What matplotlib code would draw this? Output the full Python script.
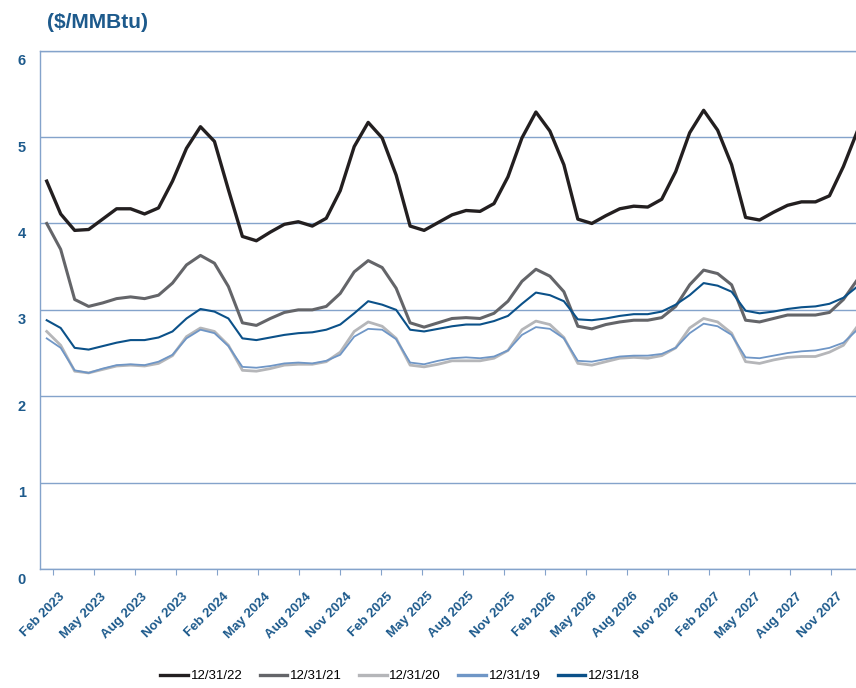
import numpy as np
import pandas as pd
import matplotlib
matplotlib.use('Agg')
import matplotlib.pyplot as plt
from matplotlib.transforms import ScaledTranslation

# forward strip, one value per contract month (Feb 2023 .. Dec 2027)
months = pd.date_range('2023-02-01', periods=59, freq='MS')

curve_22 = [4.49, 4.11, 3.92, 3.93, 4.05, 4.17, 4.17, 4.11, 4.18, 4.49, 4.87, 5.12,
            4.95, 4.39, 3.85, 3.80, 3.90, 3.99, 4.02, 3.97, 4.06, 4.38, 4.89, 5.17,
            4.99, 4.56, 3.97, 3.92, 4.01, 4.10, 4.15, 4.14, 4.23, 4.54, 4.99, 5.29,
            5.07, 4.68, 4.05, 4.00, 4.09, 4.17, 4.20, 4.19, 4.28, 4.60, 5.05, 5.31,
            5.08, 4.68, 4.07, 4.04, 4.13, 4.21, 4.25, 4.25, 4.32, 4.66, 5.07]
curve_21 = [4.00, 3.70, 3.12, 3.04, 3.08, 3.13, 3.15, 3.13, 3.17, 3.31, 3.52, 3.63,
            3.54, 3.27, 2.85, 2.82, 2.90, 2.97, 3.00, 3.00, 3.04, 3.19, 3.44, 3.57,
            3.49, 3.25, 2.85, 2.80, 2.85, 2.90, 2.91, 2.90, 2.96, 3.10, 3.33, 3.47,
            3.39, 3.21, 2.81, 2.78, 2.83, 2.86, 2.88, 2.88, 2.91, 3.04, 3.29, 3.46,
            3.42, 3.29, 2.88, 2.86, 2.90, 2.94, 2.94, 2.94, 2.97, 3.12, 3.35]
curve_20 = [2.75, 2.59, 2.29, 2.27, 2.31, 2.35, 2.36, 2.35, 2.38, 2.47, 2.69, 2.79,
            2.75, 2.59, 2.30, 2.29, 2.32, 2.36, 2.37, 2.37, 2.40, 2.51, 2.75, 2.86,
            2.81, 2.67, 2.36, 2.34, 2.37, 2.41, 2.41, 2.41, 2.44, 2.53, 2.77, 2.87,
            2.83, 2.68, 2.38, 2.36, 2.40, 2.44, 2.45, 2.44, 2.47, 2.56, 2.79, 2.90,
            2.86, 2.73, 2.40, 2.38, 2.42, 2.45, 2.46, 2.46, 2.51, 2.59, 2.81]
curve_19 = [2.67, 2.56, 2.30, 2.27, 2.32, 2.36, 2.37, 2.36, 2.40, 2.48, 2.67, 2.77,
            2.73, 2.58, 2.34, 2.33, 2.35, 2.38, 2.39, 2.38, 2.41, 2.48, 2.69, 2.78,
            2.77, 2.66, 2.39, 2.37, 2.41, 2.44, 2.45, 2.44, 2.46, 2.53, 2.71, 2.80,
            2.78, 2.67, 2.41, 2.40, 2.43, 2.46, 2.47, 2.47, 2.49, 2.56, 2.73, 2.84,
            2.81, 2.71, 2.45, 2.44, 2.47, 2.50, 2.52, 2.53, 2.56, 2.62, 2.77]
curve_18 = [2.88, 2.79, 2.56, 2.54, 2.58, 2.62, 2.65, 2.65, 2.68, 2.75, 2.90, 3.01,
            2.98, 2.90, 2.67, 2.65, 2.68, 2.71, 2.73, 2.74, 2.77, 2.83, 2.96, 3.10,
            3.06, 3.00, 2.77, 2.75, 2.78, 2.81, 2.83, 2.83, 2.87, 2.93, 3.07, 3.20,
            3.17, 3.10, 2.89, 2.88, 2.90, 2.93, 2.95, 2.95, 2.98, 3.06, 3.17, 3.31,
            3.28, 3.21, 2.99, 2.96, 2.98, 3.01, 3.03, 3.04, 3.07, 3.14, 3.27]

series_names = ['12/31/22', '12/31/21', '12/31/20', '12/31/19', '12/31/18']
series_colors = ['#231f20', '#646569', '#b5b6b9', '#6f96c6', '#0b5189']
series_widths = [2.4, 2.2, 2.0, 1.3, 1.5]

label_c = '#1d5a8c'
grid_c = '#84a3cb'

plt.rcParams['font.family'] = ['Liberation Sans', 'DejaVu Sans']

fig = plt.figure(figsize=(8.56, 6.88), dpi=100)
ax = fig.add_axes([40 / 856, 1 - 569 / 688, 1 - 40 / 856, (569 - 50.7) / 688])

x = np.arange(len(months))
curves = [curve_22, curve_21, curve_20, curve_19, curve_18]
for vals, name, c, lw in zip(curves, series_names, series_colors, series_widths):
  ax.plot(x, vals, color=c, lw=lw, label=name, solid_joinstyle='round', zorder=3)

ax.set_xlim(-0.48, 57.9)
ax.set_ylim(0, 6)

# y axis
ax.set_yticks(range(7))
ax.grid(axis='y', color=grid_c, lw=1.0, zorder=1)
ax.tick_params(axis='y', length=0, pad=10, labelsize=10.5, labelcolor=label_c)
for lab in ax.get_yticklabels():
  lab.set_fontweight('bold')
  lab.set_transform(lab.get_transform() + ScaledTranslation(0, -9 / 100, fig.dpi_scale_trans))

ax.spines['right'].set_visible(False)
for side in ['left', 'bottom', 'top']:
  ax.spines[side].set_color(grid_c)
  ax.spines[side].set_linewidth(1.0)

# x axis: quarterly labels, tick marks sit a little right of the contract month
label_idx = np.arange(0, len(months), 3)
tick_pos = 0.47 + np.arange(len(label_idx)) * 2.93
ax.set_xticks(tick_pos)
ax.set_xticklabels(months[label_idx].strftime('%b %Y'), rotation=45, ha='right',
                   va='center', rotation_mode='anchor', fontweight='bold',
                   fontsize=9.5, color=label_c)
ax.tick_params(axis='x', length=4, color=grid_c, pad=14.4)
for lab in ax.get_xticklabels():
  lab.set_transform(lab.get_transform() + ScaledTranslation(10 / 100, 0, fig.dpi_scale_trans))

fig.text(47 / 856, 1 - 22 / 688, '($/MMBtu)', fontsize=15, fontweight='bold',
         color=label_c, ha='left', va='center')

leg = fig.legend(loc='center', bbox_to_anchor=(400 / 856, 1 - 676 / 688), ncol=5,
                 frameon=False, handlelength=2.1, handletextpad=0.2,
                 columnspacing=1.3, fontsize=9.5)
for h in leg.get_lines():
  h.set_linewidth(2.4)

fig.savefig('out.png', dpi=100)
